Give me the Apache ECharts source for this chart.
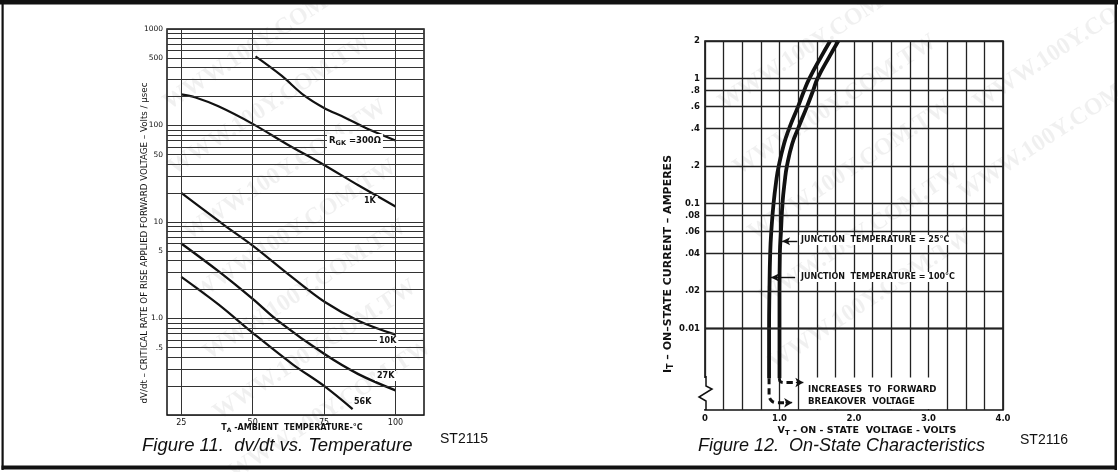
<!DOCTYPE html>
<html>
<head>
<meta charset="utf-8">
<script src="https://cdn.jsdelivr.net/npm/echarts@6/dist/echarts.min.js"></script>
<style>
html, body { margin: 0; padding: 0; background: #fff; }
#chart { width: 1118px; height: 472px; }
</style>
</head>
<body>
<div id="chart"></div>
<script>
// Figure 11 - dv/dt vs temperature  [T (C), V/us]
var rgk300 = [[51, 520], [60, 330], [68, 205], [75, 152], [82, 122], [90, 93], [100, 70]];
var rgk1k = [[25, 210], [30, 195], [38, 158], [50, 104], [62, 64], [75, 39], [87, 24], [100, 14.5]];
var rgk10k = [[25, 20], [40, 9.3], [50, 5.7], [64, 2.65], [75, 1.5], [87, 0.95], [100, 0.68]];
var rgk27k = [[25, 6], [38, 3.1], [50, 1.6], [59, 0.94], [75, 0.43], [87, 0.265], [100, 0.18]];
var rgk56k = [[25, 2.7], [38, 1.4], [50, 0.71], [64, 0.335], [75, 0.2], [85, 0.115]];
var tempTicks = [25, 50, 75, 100];
var dvTicks = [1000, 500, 100, 50, 10, 5, 1, 0.5];
var dvTickText = ['1000', '500', '100', '50', '10', '5', '1.0', '.5'];

// Figure 12 - on-state characteristics  [V, A]
var on100 = [[0.86, 0.004], [0.86, 0.01], [0.865, 0.02], [0.875, 0.04], [0.89, 0.06], [0.92, 0.1], [0.955, 0.15], [0.99, 0.2],
             [1.06, 0.3], [1.13, 0.4], [1.25, 0.6], [1.33, 0.8], [1.40, 1], [1.56, 1.5], [1.68, 2]];
var on25 = [[1.0, 0.004], [1.0, 0.01], [1.0, 0.02], [1.005, 0.04], [1.02, 0.06], [1.04, 0.1], [1.07, 0.15], [1.10, 0.2],
            [1.17, 0.3], [1.25, 0.4], [1.37, 0.6], [1.45, 0.8], [1.51, 1], [1.67, 1.5], [1.79, 2]];
var on25Dash = [[1.0, 0.004], [1.005, 0.0038], [1.05, 0.0037], [1.22, 0.0037]];
var on100Dash = [[0.86, 0.004], [0.86, 0.0029], [0.9, 0.00262], [0.98, 0.00255], [1.08, 0.00255]];
var voltTicks = [0, 1, 2, 3, 4];
var voltTickText = ['0', '1.0', '2.0', '3.0', '4.0'];
var ampGrid = [2, 1, 0.8, 0.6, 0.4, 0.2, 0.1, 0.08, 0.06, 0.04, 0.02, 0.01, 0.008, 0.006, 0.004];
var ampTicks = [2, 1, 0.8, 0.6, 0.4, 0.2, 0.1, 0.08, 0.06, 0.04, 0.02, 0.01];
var ampTickText = ['2', '1', '.8', '.6', '.4', '.2', '0.1', '.08', '.06', '.04', '.02', '0.01'];

var myChart = echarts.init(document.getElementById('chart'));
var ink = '#111';

// log grid lines 1..9 per decade
var dvGrid = [1000];
[0.1, 1, 10, 100].forEach(function (d) {
    for (var k = 1; k <= 9; k++) {
        dvGrid.push(+(k * d).toPrecision(6));
    }
});

var leftLines = [];
dvGrid.forEach(function (v) {
    var i = dvTicks.indexOf(v);
    leftLines.push({ yAxis: v, label: i >= 0 ? { show: true, formatter: dvTickText[i] } : { show: false } });
});
tempTicks.forEach(function (t) {
    leftLines.push({ xAxis: t, label: { show: false } });
});

var rightLines = [];
ampGrid.forEach(function (v) {
    var i = ampTicks.indexOf(v);
    rightLines.push({ yAxis: v, label: i >= 0 ? { show: true, formatter: ampTickText[i] } : { show: false } });
});

function curve(name, data, xi, w, extra) {
    var s = {
        name: name,
        type: 'line',
        xAxisIndex: xi,
        yAxisIndex: xi,
        data: data,
        smooth: 0.35,
        showSymbol: false,
        symbol: 'none',
        lineStyle: { color: ink, width: w },
        silent: true,
        z: 3
    };
    for (var k in extra) s[k] = extra[k];
    return s;
}

// watermark
var wm = [];
[[265, 40], [270, 105], [285, 170], [295, 230], [305, 290], [315, 350], [330, 410],
 [820, 40], [835, 105], [850, 170], [860, 235], [870, 300], [1075, 40], [1060, 130]].forEach(function (p) {
    wm.push({
        type: 'text', x: p[0], y: p[1], rotation: 0.58, z: 1, silent: true,
        style: { text: 'WWW.100Y.COM.TW', fill: 'rgba(0,0,0,0.06)', font: 'bold 24px "Liberation Serif"', align: 'center', verticalAlign: 'middle' }
    });
});

var lblFont = 'bold 8px "DejaVu Sans"';
function tag(x, y, text, font) {
    return {
        type: 'text', x: x, y: y, z: 20, silent: true,
        style: { text: text, fill: ink, font: font || lblFont, align: 'left', verticalAlign: 'middle', backgroundColor: '#fff', padding: [1, 2] }
    };
}

var option = {
    animation: false,
    backgroundColor: '#fff',
    textStyle: { fontFamily: 'DejaVu Sans' },
    grid: [
        { left: 167, top: 29, width: 257, height: 386, show: true, borderColor: ink, borderWidth: 1.5 },
        { left: 705, top: 41, width: 298, height: 369, show: true, borderColor: ink, borderWidth: 1.6 }
    ],
    xAxis: [{
        gridIndex: 0, type: 'value', min: 20, max: 110, interval: 5,
        axisLine: { show: false }, axisTick: { show: false }, splitLine: { show: false },
        axisLabel: {
            margin: 4, fontSize: 8, color: ink,
            formatter: function (v) { return tempTicks.indexOf(v) >= 0 ? String(v) : ''; }
        }
    }, {
        gridIndex: 1, type: 'value', min: 0, max: 4, interval: 0.25,
        axisLine: { show: false }, axisTick: { show: false },
        splitLine: { show: true, lineStyle: { color: '#222', width: 1.3 } },
        axisLabel: {
            margin: 4, fontSize: 8.5, fontWeight: 'bold', color: ink,
            formatter: function (v) { var i = voltTicks.indexOf(v); return i >= 0 ? voltTickText[i] : ''; }
        }
    }],
    yAxis: [{
        gridIndex: 0, type: 'log', logBase: 10, min: 0.1, max: 1000,
        axisLine: { show: false }, axisTick: { show: false }, axisLabel: { show: false }, splitLine: { show: false }
    }, {
        gridIndex: 1, type: 'log', logBase: 10, min: 0.00223, max: 2,
        axisLine: { show: false }, axisTick: { show: false }, axisLabel: { show: false }, splitLine: { show: false }
    }],
    graphic: { elements: wm.concat([
        // frame
        { type: 'rect', z: 30, shape: { x: 0, y: 0, width: 1118, height: 4.5 }, style: { fill: ink } },
        { type: 'rect', z: 30, shape: { x: 1.5, y: 0, width: 2.2, height: 470 }, style: { fill: ink } },
        { type: 'rect', z: 30, shape: { x: 1114.5, y: 0, width: 2.5, height: 470 }, style: { fill: ink } },
        { type: 'rect', z: 30, shape: { x: 1.5, y: 465.5, width: 1115, height: 4 }, style: { fill: ink } },

        // axis titles
        { type: 'text', x: 144.5, y: 243, rotation: Math.PI / 2, z: 20, silent: true,
          style: { text: 'dV/dt – CRITICAL RATE OF RISE APPLIED FORWARD VOLTAGE – Volts / µsec', fill: ink, font: '8.7px "DejaVu Sans"', align: 'center', verticalAlign: 'middle' } },
        { type: 'text', x: 292, y: 428, z: 20, silent: true,
          style: { text: '{a|T}{s|A}{a| -AMBIENT  TEMPERATURE-°C}', align: 'center', verticalAlign: 'middle',
            rich: { a: { font: 'bold 8px "DejaVu Sans"', fill: ink }, s: { font: 'bold 6px "DejaVu Sans"', fill: ink, padding: [5, 0, 0, 0] } } } },
        { type: 'text', x: 668, y: 264, rotation: Math.PI / 2, z: 20, silent: true,
          style: { text: '{a|I}{s|T}{a| – ON–STATE CURRENT – AMPERES}', align: 'center', verticalAlign: 'middle',
            rich: { a: { font: 'bold 11px "DejaVu Sans"', fill: ink }, s: { font: 'bold 8px "DejaVu Sans"', fill: ink, padding: [5, 0, 0, 0] } } } },
        { type: 'text', x: 867, y: 431, z: 20, silent: true,
          style: { text: '{a|V}{s|T}{a| - ON - STATE  VOLTAGE - VOLTS}', align: 'center', verticalAlign: 'middle',
            rich: { a: { font: 'bold 9.5px "DejaVu Sans"', fill: ink }, s: { font: 'bold 7px "DejaVu Sans"', fill: ink, padding: [5, 0, 0, 0] } } } },

        // curve tags, figure 11
        { type: 'text', x: 327, y: 141, z: 20, silent: true,
          style: { text: '{a|R}{s|GK}{a| =300Ω}', align: 'left', verticalAlign: 'middle', backgroundColor: '#fff', padding: [1, 2],
            rich: { a: { font: 'bold 8.5px "DejaVu Sans"', fill: ink }, s: { font: 'bold 6.5px "DejaVu Sans"', fill: ink, padding: [5, 0, 0, 0] } } } },
        tag(362, 201, '1K'),
        tag(377, 341, '10K'),
        tag(375, 376, '27K'),
        tag(352, 402, '56K'),

        // annotations, figure 12
        tag(799, 240, 'JUNCTION  TEMPERATURE = 25°C'),
        tag(799, 277, 'JUNCTION  TEMPERATURE = 100°C'),
        { type: 'rect', z: 15, shape: { x: 804, y: 377.5, width: 140, height: 31.5 }, style: { fill: '#fff' } },
        tag(806, 390, 'INCREASES  TO  FORWARD', 'bold 8.6px "DejaVu Sans"'),
        tag(806, 402, 'BREAKOVER  VOLTAGE', 'bold 8.6px "DejaVu Sans"'),

        // axis break on fig 12
        { type: 'rect', z: 15, shape: { x: 703, y: 378, width: 5, height: 31 }, style: { fill: '#fff' } },
        { type: 'polyline', z: 16, shape: { points: [[706, 376], [706, 386], [712, 389], [699, 397], [706, 401], [706, 410]] },
          style: { stroke: ink, lineWidth: 1.5, fill: null } },

        // captions
        { type: 'text', x: 142, y: 446, z: 20, style: { text: 'Figure 11.  dv/dt vs. Temperature', fill: ink, font: 'italic 18.5px "Liberation Sans"', align: 'left', verticalAlign: 'middle' } },
        { type: 'text', x: 698, y: 446, z: 20, style: { text: 'Figure 12.  On-State Characteristics', fill: ink, font: 'italic 18px "Liberation Sans"', align: 'left', verticalAlign: 'middle' } },
        { type: 'text', x: 440, y: 439, z: 20, style: { text: 'ST2115', fill: ink, font: '14px "Liberation Sans"', align: 'left', verticalAlign: 'middle' } },
        { type: 'text', x: 1020, y: 440, z: 20, style: { text: 'ST2116', fill: ink, font: '14px "Liberation Sans"', align: 'left', verticalAlign: 'middle' } }
    ]) },
    series: [
        curve('300', rgk300, 0, 2.2, {
            markLine: {
                silent: true, symbol: 'none', animation: false,
                lineStyle: { color: '#333', width: 1, type: 'solid' },
                label: { position: 'start', distance: 4, color: ink, fontSize: 7.5, fontFamily: 'DejaVu Sans' },
                data: leftLines
            }
        }),
        curve('1K', rgk1k, 0, 2.2, {}),
        curve('10K', rgk10k, 0, 2.2, {}),
        curve('27K', rgk27k, 0, 2.4, {}),
        curve('56K', rgk56k, 0, 2.2, {}),
        curve('100C', on100, 1, 3.8, {
            smooth: 0.5,
            markLine: {
                silent: true, symbol: 'none', animation: false,
                lineStyle: { color: '#222', width: 1.4, type: 'solid' },
                label: { position: 'start', distance: 5, color: ink, fontSize: 8.5, fontWeight: 'bold', fontFamily: 'DejaVu Sans' },
                data: rightLines
            }
        }),
        curve('25C', on25, 1, 3.8, {
            smooth: 0.5,
            markLine: {
                silent: true, animation: false, symbolSize: [6, 8],
                lineStyle: { color: ink, width: 1.4, type: 'solid' },
                label: { show: false },
                data: [
                    [{ coord: [1.035, 0.05], symbol: 'arrow' }, { coord: [1.24, 0.05], symbol: 'none' }],
                    [{ coord: [0.885, 0.0256], symbol: 'arrow' }, { coord: [1.21, 0.0256], symbol: 'none' }],
                    [{ coord: [1.22, 0.0037], symbol: 'none' }, { coord: [1.32, 0.0037], symbol: 'arrow', symbolSize: [7, 8] }],
                    [{ coord: [1.08, 0.00255], symbol: 'none' }, { coord: [1.17, 0.00255], symbol: 'arrow', symbolSize: [7, 8] }]
                ]
            }
        }),
        curve('25Cdash', on25Dash, 1, 3, { lineStyle: { color: ink, width: 3, type: [6, 4] } }),
        curve('100Cdash', on100Dash, 1, 3, { lineStyle: { color: ink, width: 3, type: [6, 4] } })
    ]
};

myChart.setOption(option);
</script>
</body>
</html>
